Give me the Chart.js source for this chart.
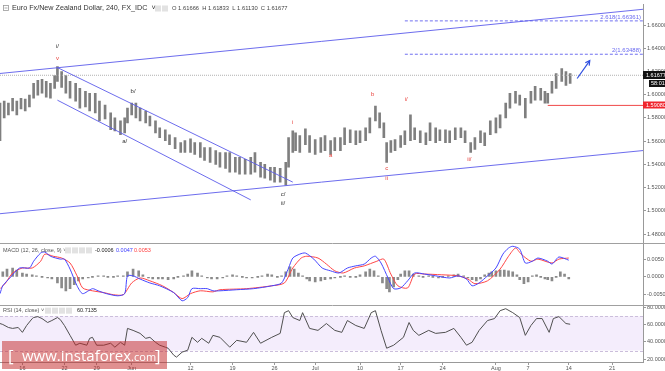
<!DOCTYPE html>
<html>
<head>
<meta charset="utf-8">
<script src="https://cdn.jsdelivr.net/npm/chart.js@4.4.1/dist/chart.umd.min.js"></script>
<style>
  html, body { margin: 0; padding: 0; background: #fff; }
  #wrap { width: 665px; height: 371px; position: relative; }
</style>
</head>
<body>
<div id="wrap"><canvas id="chart" width="665" height="371"></canvas></div>
<script>
// EUR/NZD 240 — price, MACD, RSI

// x axis (4h bar index) and its labels
const tickIdx = [16, 46, 69, 94, 136, 166, 196, 225, 257, 286, 316, 354, 377, 406, 437];
const tickLabels = ['16', '22', '29', 'Jun', '12', '19', '26', 'Jul', '10', '17', '24', 'Aug', '7', '14', '21'];
const priceTicks = [1.48, 1.50, 1.52, 1.54, 1.56, 1.58, 1.60, 1.62, 1.64, 1.66];
const macdTicks = [-0.005, 0, 0.005];
const rsiTicks = [20, 40, 60, 80];

// price bars
const barIdx = [0,3,6,9,12,15,18,21,24,27,30,33,36,39,41,44,47,50,54,57,61,64,68,71,75,79,82,86,89,91,
  94,97,100,104,107,111,114,118,121,125,129,132,136,139,143,146,150,154,157,161,164,168,171,175,179,182,186,189,193,196,
  200,204,206,209,211,214,218,221,225,229,232,236,239,243,246,250,254,257,261,264,268,271,274,276,279,282,286,289,293,296,
  300,304,307,311,314,318,321,325,329,332,336,339,343,346,350,354,357,361,364,368,371,375,379,382,386,389,391,394,397,401,404,407];
const barHigh = [1.5928,1.5945,1.5928,1.5970,1.5945,1.5970,1.5962,1.5996,1.6098,1.6123,
  1.6132,1.6115,1.6098,1.6166,1.6243,1.6200,1.6166,1.6115,1.6098,1.6055,
  1.6030,1.6013,1.6013,1.5945,1.5911,1.5843,1.5800,1.5775,1.5800,1.5885,
  1.5928,1.5928,1.5885,1.5860,1.5817,1.5775,1.5715,1.5698,1.5655,1.5630,
  1.5587,1.5604,1.5621,1.5587,1.5587,1.5545,1.5545,1.5519,1.5502,1.5502,
  1.5502,1.5460,1.5460,1.5443,1.5460,1.5502,1.5417,1.5400,1.5375,1.5375,
  1.5366,1.5417,1.5630,1.5689,1.5672,1.5647,1.5706,1.5647,1.5613,1.5630,
  1.5647,1.5604,1.5630,1.5630,1.5715,1.5698,1.5689,1.5689,1.5715,1.5800,
  1.5902,1.5843,1.5758,1.5587,1.5604,1.5613,1.5647,1.5689,1.5826,1.5715,
  1.5689,1.5672,1.5758,1.5715,1.5698,1.5698,1.5689,1.5715,1.5715,1.5689,
  1.5587,1.5630,1.5689,1.5672,1.5775,1.5800,1.5826,1.5928,1.6013,1.6030,
  1.5996,1.5970,1.6030,1.6072,1.6055,1.6030,1.6013,1.6115,1.6183,1.6226,
  1.6200,1.6183];
const barLow = [1.5604,1.5800,1.5826,1.5860,1.5826,1.5877,1.5860,1.5894,1.5970,1.5996,
  1.6013,1.5979,1.5970,1.6055,1.6115,1.6064,1.6013,1.5970,1.5945,1.5885,
  1.5894,1.5860,1.5843,1.5775,1.5791,1.5698,1.5689,1.5655,1.5672,1.5758,
  1.5826,1.5800,1.5775,1.5758,1.5732,1.5672,1.5630,1.5604,1.5570,1.5536,
  1.5502,1.5502,1.5502,1.5485,1.5460,1.5434,1.5417,1.5400,1.5375,1.5366,
  1.5332,1.5332,1.5315,1.5315,1.5315,1.5332,1.5289,1.5281,1.5264,1.5247,
  1.5247,1.5221,1.5375,1.5502,1.5519,1.5502,1.5570,1.5502,1.5485,1.5502,
  1.5519,1.5485,1.5519,1.5519,1.5570,1.5587,1.5570,1.5587,1.5604,1.5672,
  1.5775,1.5715,1.5630,1.5417,1.5502,1.5519,1.5545,1.5570,1.5604,1.5613,
  1.5587,1.5570,1.5604,1.5587,1.5604,1.5587,1.5587,1.5613,1.5630,1.5587,
  1.5502,1.5528,1.5587,1.5562,1.5655,1.5672,1.5715,1.5800,1.5885,1.5928,
  1.5911,1.5800,1.5928,1.5953,1.5953,1.5928,1.5928,1.6013,1.6055,1.6115,
  1.6081,1.6098];

// MACD line (blue)
const macdX = [0,2,7,14,21,24,29,32,36,43,46,50,55,59,66,70,76,84,89,91,95,100,107,114,124,130,134,137,143,148,
  152,157,169,181,194,201,206,209,214,218,224,230,236,242,248,254,260,265,268,272,277,281,286,291,296,303,311,321,327,333,
  337,342,348,354,359,363,366,371,375,380,384,391,394,396,399,406];
const macdVals = [-0.0047,-0.0025,-0.0003,0.0025,0.0025,0.0044,0.0067,0.0070,0.0058,0.0050,
  0.0050,0.0022,-0.0025,-0.0047,-0.0033,-0.0039,-0.0047,-0.0053,-0.0047,0.0003,
  0.0003,-0.0006,-0.0017,-0.0025,-0.0044,-0.0067,-0.0058,-0.0033,-0.0033,-0.0033,
  -0.0039,-0.0039,-0.0036,-0.0033,-0.0025,-0.0017,0.0025,0.0053,0.0064,0.0067,
  0.0050,0.0025,0.0017,0.0011,0.0025,0.0031,0.0036,0.0053,0.0058,0.0039,
  -0.0003,-0.0033,-0.0031,-0.0011,0.0011,0.0008,0.0003,-0.0003,0.0003,-0.0006,
  -0.0025,-0.0017,0.0003,0.0025,0.0064,0.0081,0.0086,0.0078,0.0039,0.0044,
  0.0053,0.0044,0.0036,0.0044,0.0056,0.0047];

// signal line (red)
const signalX = [0,4,9,16,23,29,32,38,44,50,55,59,66,74,81,88,94,100,107,116,124,130,136,143,152,157,176,194,203,209,
  215,219,227,233,239,245,253,260,269,274,279,284,291,296,303,315,327,334,339,348,357,363,368,372,379,384,394,399,406];
const signalVals = [-0.0033,-0.0017,0.0011,0.0025,0.0025,0.0044,0.0064,0.0058,0.0053,0.0039,
  0.0003,-0.0031,-0.0039,-0.0044,-0.0050,-0.0050,-0.0017,-0.0003,-0.0011,-0.0025,
  -0.0044,-0.0061,-0.0047,-0.0039,-0.0042,-0.0036,-0.0033,-0.0025,-0.0017,0.0025,
  0.0053,0.0058,0.0053,0.0036,0.0017,0.0011,0.0025,0.0031,0.0044,0.0050,
  0.0008,-0.0025,-0.0031,0.0008,0.0008,0.0006,0.0003,-0.0006,-0.0019,-0.0011,
  0.0022,0.0058,0.0081,0.0064,0.0044,0.0050,0.0039,0.0050,0.0053];

// MACD histogram
const histX = [2,5,9,12,16,19,23,26,30,34,37,41,44,47,50,53,56,59,63,66,70,74,77,81,84,88,91,95,99,102,
  106,109,113,116,120,124,127,131,134,137,141,144,148,151,155,159,162,166,169,173,176,180,184,187,191,194,198,201,204,207,
  210,213,216,219,221,225,229,232,236,239,243,246,250,254,257,261,264,267,270,273,276,278,281,284,286,289,292,295,299,302,
  306,309,313,316,320,324,327,331,334,337,340,343,346,349,351,354,357,360,363,366,369,371,374,377,380,383,386,389,391,394,
  397,400,403,406];
const histVals = [0.0014,0.0022,0.0025,0.0019,0.0011,0.0008,0.0006,0.0003,0,-0.0003,
  -0.0006,-0.0017,-0.0031,-0.0039,-0.0033,-0.0022,-0.0011,-0.0006,-0.0003,0,
  0.0003,0.0003,0,0,0.0003,0.0003,0.0014,0.0022,0.0017,0.0006,
  -0.0003,-0.0006,-0.0006,-0.0006,-0.0008,-0.0006,0,0.0003,0.0008,0.0017,
  0.0011,0.0003,-0.0003,-0.0006,-0.0006,-0.0003,0.0003,0.0006,0.0003,0,
  -0.0003,-0.0003,0,0.0003,0.0008,0.0006,0,0.0003,0.0014,0.0028,
  0.0022,0.0011,0.0003,-0.0006,-0.0011,-0.0014,-0.0011,-0.0008,-0.0006,-0.0003,
  0,0.0003,0,0,0.0006,0.0014,0.0022,0.0017,0.0003,-0.0017,
  -0.0033,-0.0042,-0.0028,-0.0008,0.0008,0.0017,0.0017,0.0008,0.0003,0,
  0.0003,0,-0.0003,0,0.0003,0.0006,0.0008,0.0003,-0.0003,-0.0008,
  -0.0011,-0.0006,0.0006,0.0011,0.0014,0.0017,0.0019,0.0019,0.0017,0.0014,
  0.0006,-0.0008,-0.0019,-0.0014,0.0003,0.0006,0,-0.0006,-0.0008,-0.0011,
  0,0.0014,0.0008,-0.0006];

// RSI(14)
const rsiX = [0,2,6,9,13,16,19,23,24,27,30,34,37,41,43,46,50,54,57,62,64,66,69,74,79,82,86,89,91,95,
  100,104,107,111,114,118,120,124,126,130,134,137,141,144,149,152,157,164,169,176,181,186,194,200,203,206,209,214,216,221,
  227,233,239,244,248,254,260,265,268,272,276,281,288,292,295,299,306,311,318,324,329,333,337,342,348,353,357,361,366,371,
  375,379,383,387,392,395,399,404,407];
const rsiVals = [61.5,60.4,56.9,55.8,56.9,51.2,59.2,67.3,68.5,69.6,
  67.3,62.7,65.0,68.5,66.2,59.2,47.7,36.2,38.5,36.2,
  44.2,45.4,36.2,36.2,38.5,33.9,39.6,36.2,55.8,53.5,
  50.0,44.2,45.4,39.6,36.2,33.9,32.7,24.6,22.3,28.1,
  30.4,45.4,39.6,44.2,38.5,47.7,45.4,33.9,41.9,39.6,
  51.2,38.5,45.4,50.0,74.2,76.5,68.5,65.0,74.2,55.8,
  53.5,61.5,53.5,51.2,65.0,59.2,55.8,74.2,76.5,53.5,
  32.7,36.2,45.4,62.7,53.5,47.7,53.5,50.0,51.2,55.8,
  45.4,36.2,39.6,53.5,65.0,67.3,76.5,78.8,74.2,68.5,
  47.7,59.2,67.3,67.3,51.2,67.3,69.6,61.5,60.7];

// drawings on the price pane
const upperTrend = [{ x: 0, y: 1.6183 }, { x: 459, y: 1.6736 }];
const lowerTrend = [{ x: 0, y: 1.4975 }, { x: 459, y: 1.5519 }];
const channelTop = [{ x: 41, y: 1.6234 }, { x: 209, y: 1.5247 }];
const channelBottom = [{ x: 41, y: 1.5953 }, { x: 179, y: 1.5094 }];
const arrowPath = [{ x: 412, y: 1.6140 }, { x: 421, y: 1.6294 }];
const fibLevels = [1.66361, 1.63488];
const fibNames = ['2.618(1.66361)', '2(1.63488)'];
const fibStart = 289;
const supportLevel = 1.59080;
const supportStart = 391;
const lastPrice = 1.61677;

// wave count labels: [text, bar index, price, red?]
const waveMarks = [
  ['i/', 41, 1.6421, false], ['v', 41, 1.6311, true],
  ['b/', 95, 1.6030, false], ['a/', 89, 1.5596, false],
  ['c/', 202, 1.5145, false], ['ii/', 202, 1.5068, false],
  ['i', 209, 1.5758, true], ['a', 236, 1.5477, true],
  ['b', 266, 1.6004, true], ['c', 276, 1.5366, true],
  ['ii', 276, 1.5281, true], ['i/', 290, 1.5962, true],
  ['ii/', 335, 1.5443, true]
];

const FONT = '"Liberation Sans", Arial, sans-serif';
const TREND = 'rgba(92, 92, 235, 0.9)';

function seg(points, color, dash, width) {
  return {
    type: 'line', data: points, yAxisID: 'y', borderColor: color, borderWidth: width || 1,
    borderDash: dash || [], pointRadius: 0, tension: 0, order: 0
  };
}

const overlay = {
  id: 'overlay',
  beforeDatasetsDraw(chart) {
    const { ctx, chartArea: a, scales } = chart;
    const r = scales.yRsi;
    const t = r.getPixelForValue(70), b = r.getPixelForValue(30);
    ctx.save();
    ctx.fillStyle = 'rgba(190, 150, 235, 0.17)';
    ctx.fillRect(a.left, t, a.right - a.left, b - t);
    ctx.strokeStyle = '#cbbedb';
    ctx.setLineDash([3, 2]);
    [t, b].forEach(v => {
      ctx.beginPath(); ctx.moveTo(a.left, Math.round(v) + 0.5); ctx.lineTo(a.right, Math.round(v) + 0.5); ctx.stroke();
    });
    ctx.restore();
  },
  afterDraw(chart) {
    const { ctx, chartArea: a, scales } = chart;
    const x = scales.x, y = scales.y;
    ctx.save();

    // pane separators
    ctx.strokeStyle = '#a0a0a0';
    ctx.lineWidth = 1;
    [scales.yMacd.top, scales.yRsi.top].forEach(t => {
      ctx.beginPath(); ctx.moveTo(0, Math.round(t) + 0.5); ctx.lineTo(665, Math.round(t) + 0.5); ctx.stroke();
    });

    // arrow head
    const p0 = arrowPath[0], p1 = arrowPath[1];
    const x0 = x.getPixelForValue(p0.x), y0 = y.getPixelForValue(p0.y);
    const x1 = x.getPixelForValue(p1.x), y1 = y.getPixelForValue(p1.y);
    const ang = Math.atan2(y1 - y0, x1 - x0);
    ctx.strokeStyle = '#2f4fe0';
    ctx.lineWidth = 1.2;
    ctx.beginPath();
    ctx.moveTo(x1 - 5 * Math.cos(ang - 0.5), y1 - 5 * Math.sin(ang - 0.5));
    ctx.lineTo(x1, y1);
    ctx.lineTo(x1 - 5 * Math.cos(ang + 0.5), y1 - 5 * Math.sin(ang + 0.5));
    ctx.stroke();

    // wave labels
    ctx.font = '6px ' + FONT;
    ctx.textAlign = 'center';
    ctx.textBaseline = 'middle';
    waveMarks.forEach(m => {
      ctx.fillStyle = m[3] ? '#e8413c' : '#333';
      ctx.fillText(m[0], x.getPixelForValue(m[1]), y.getPixelForValue(m[2]));
    });

    // fibonacci labels
    ctx.fillStyle = '#6a6af0';
    ctx.textAlign = 'right';
    ctx.textBaseline = 'alphabetic';
    fibLevels.forEach((lv, i) => ctx.fillText(fibNames[i], a.right - 2, y.getPixelForValue(lv) - 2));

    // price tags on the right axis
    ctx.font = '5.5px ' + FONT;
    ctx.textAlign = 'left';
    ctx.textBaseline = 'middle';
    const yl = Math.round(y.getPixelForValue(lastPrice));
    ctx.fillStyle = '#111';
    ctx.fillRect(a.right, yl - 4, 22, 8);
    ctx.fillRect(a.right + 6, yl + 5, 16, 7);
    ctx.fillStyle = '#fff';
    ctx.fillText(lastPrice.toFixed(5), a.right + 3, yl);
    ctx.fillText('58:01', a.right + 8, yl + 8.5);
    const ys = Math.round(y.getPixelForValue(supportLevel));
    ctx.fillStyle = '#f0262e';
    ctx.fillRect(a.right, ys - 3.5, 22, 7);
    ctx.fillStyle = '#fff';
    ctx.fillText(supportLevel.toFixed(5), a.right + 3, ys);

    // titles / legends
    ctx.strokeStyle = '#999';
    ctx.lineWidth = 0.8;
    ctx.strokeRect(3.5, 5.5, 5, 5);
    ctx.beginPath(); ctx.moveTo(4.5, 8); ctx.lineTo(7.5, 8); ctx.stroke();
    ctx.fillStyle = '#333';
    ctx.font = '7.2px ' + FONT;
    ctx.fillText('Euro Fx/New Zealand Dollar, 240, FX_IDC  \u02C5', 12, 8.5);
    const boxes = (x0b, yb, n) => {
      ctx.fillStyle = '#e2e2e2';
      for (let i = 0; i < n; i++) ctx.fillRect(x0b + i * 7, yb - 3, 6, 6);
    };
    boxes(155, 8.5, 2);
    ctx.fillStyle = '#444';
    ctx.font = '5.8px ' + FONT;
    ctx.fillText('O 1.61666  H 1.61833  L 1.61130  C 1.61677', 172, 8.5);

    const my = scales.yMacd.top + 7;
    ctx.fillStyle = '#555';
    ctx.font = '5.5px ' + FONT;
    ctx.fillText('MACD (12, 26, close, 9) \u02C5', 3, my);
    boxes(65, my, 4);
    ctx.fillStyle = '#222'; ctx.fillText('-0.0006', 95, my);
    ctx.fillStyle = '#3b3bff'; ctx.fillText('0.0047', 116, my);
    ctx.fillStyle = '#ff3b3b'; ctx.fillText('0.0053', 134, my);

    const ry = scales.yRsi.top + 6;
    ctx.fillStyle = '#555';
    ctx.fillText('RSI (14, close) \u02C5', 3, ry);
    boxes(45, ry, 4);
    ctx.fillStyle = '#222';
    ctx.fillText('60.7135', 77, ry);

    // watermark
    ctx.fillStyle = 'rgba(196, 42, 42, 0.52)';
    ctx.fillRect(2, 341, 165, 28);
    ctx.fillStyle = '#fff';
    ctx.textBaseline = 'alphabetic';
    ctx.font = '17px "Open Sans", ' + FONT;
    ctx.fillText('[', 8, 362);
    ctx.font = '15px "Open Sans", ' + FONT;
    ctx.fillText('www.instaforex', 22, 361);
    const w = ctx.measureText('www.instaforex').width;
    ctx.font = '11px "Open Sans", ' + FONT;
    ctx.fillText('.com', 22 + w, 361);
    ctx.font = '17px "Open Sans", ' + FONT;
    ctx.fillText(']', 155, 362);
    ctx.restore();
  }
};

const yCommon = (ticks, digits) => ({
  type: 'linear',
  position: 'right',
  stack: 'panes',
  offset: false,
  grid: { drawOnChartArea: false, tickLength: 3, color: '#999', offset: false },
  border: { color: '#999' },
  afterBuildTicks: s => { s.ticks = ticks.map(v => ({ value: v })); },
  afterFit: s => { s.width = 22; },
  ticks: {
    font: { size: 5.5, family: FONT }, color: '#555', padding: 1,
    callback: v => v.toFixed(digits)
  }
});

new Chart(document.getElementById('chart'), {
  data: {
    datasets: [
      seg(upperTrend, TREND),
      seg(lowerTrend, TREND),
      seg(channelTop, TREND),
      seg(channelBottom, TREND),
      seg(arrowPath, '#2f4fe0', [], 1.2),
      seg([{ x: fibStart, y: fibLevels[0] }, { x: 459, y: fibLevels[0] }], '#7070f0', [3, 2]),
      seg([{ x: fibStart, y: fibLevels[1] }, { x: 459, y: fibLevels[1] }], '#7070f0', [3, 2]),
      seg([{ x: supportStart, y: supportLevel }, { x: 459, y: supportLevel }], '#f04848'),
      seg([{ x: 0, y: lastPrice }, { x: 459, y: lastPrice }], '#b0b0b0', [1, 1]),
      {
        type: 'bar', yAxisID: 'y', order: 5, grouped: false, barThickness: 2,
        backgroundColor: 'rgba(105,105,105,0.85)',
        data: barIdx.map((v, i) => ({ x: v, y: [barLow[i], barHigh[i]] }))
      },
      {
        type: 'line', yAxisID: 'yMacd', order: 1, borderColor: '#4646ff', borderWidth: 1,
        pointRadius: 0, tension: 0.25,
        data: macdX.map((v, i) => ({ x: v, y: macdVals[i] }))
      },
      {
        type: 'line', yAxisID: 'yMacd', order: 2, borderColor: '#ff4646', borderWidth: 1,
        pointRadius: 0, tension: 0.25,
        data: signalX.map((v, i) => ({ x: v, y: signalVals[i] }))
      },
      {
        type: 'bar', yAxisID: 'yMacd', order: 4, grouped: false, barThickness: 2, minBarLength: 1,
        backgroundColor: '#8a8a8a',
        data: histX.map((v, i) => ({ x: v, y: histVals[i] }))
      },
      {
        type: 'line', yAxisID: 'yRsi', order: 1, borderColor: '#505050', borderWidth: 1,
        pointRadius: 0, tension: 0,
        data: rsiX.map((v, i) => ({ x: v, y: rsiVals[i] }))
      }
    ]
  },
  options: {
    responsive: false,
    animation: false,
    events: [],
    layout: { padding: 0 },
    plugins: { legend: { display: false }, tooltip: { enabled: false } },
    scales: {
      x: {
        type: 'linear', position: 'bottom', min: 0, max: 459, offset: false,
        grid: { drawOnChartArea: false, tickLength: 3, color: '#999', offset: false },
        border: { color: '#999' },
        afterBuildTicks: s => { s.ticks = tickIdx.map(v => ({ value: v })); },
        afterFit: s => { s.height = 9; },
        ticks: {
          autoSkip: false, maxRotation: 0, padding: 0,
          font: { size: 5.5, family: FONT }, color: '#555',
          callback: v => tickLabels[tickIdx.indexOf(v)]
        }
      },
      y: Object.assign(yCommon(priceTicks, 5), { min: 1.4719, max: 1.6779, stackWeight: 242 }),
      yMacd: Object.assign(yCommon(macdTicks, 4), { min: -0.0078, max: 0.0094, stackWeight: 62 }),
      yRsi: Object.assign(yCommon(rsiTicks, 4), { min: 16.6, max: 83.5, stackWeight: 58 })
    }
  },
  plugins: [overlay]
});
</script>
</body>
</html>
